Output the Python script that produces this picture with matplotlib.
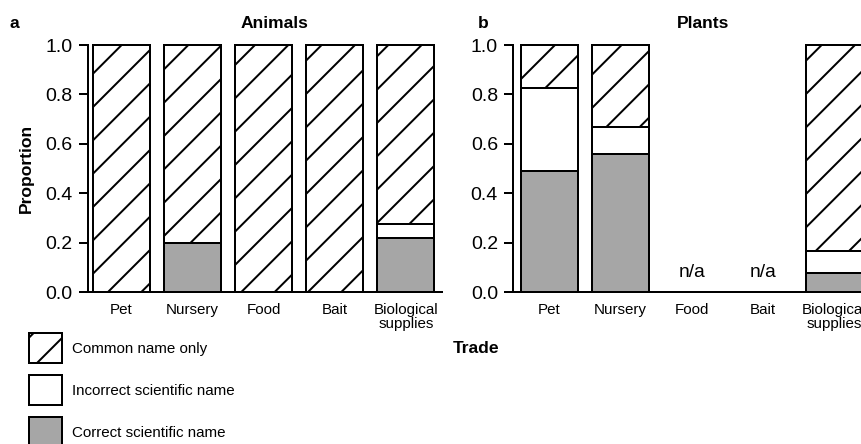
import matplotlib
matplotlib.use("Agg")
import matplotlib.pyplot as plt
from matplotlib.patches import Patch
import numpy as np

# ---- data -------------------------------------------------------------
trades = ["Pet", "Nursery", "Food", "Bait", "Biological\nsupplies"]

animals_correct = [0.0, 0.20, 0.0, 0.0, 0.22]
animals_incorrect = [0.0, 0.0, 0.0, 0.0, 0.055]
animals_common = [1.0, 0.80, 1.0, 1.0, 0.725]

# Food and Bait have no plant records (n/a)
plants_correct = [0.49, 0.56, np.nan, np.nan, 0.08]
plants_incorrect = [0.337, 0.11, np.nan, np.nan, 0.085]
plants_common = [0.173, 0.33, np.nan, np.nan, 0.835]

legend_labels = ["Common name only", "Incorrect scientific name", "Correct scientific name"]

# ---- style ------------------------------------------------------------
DPI = 200
FONT = "Liberation Sans"
GRAY = "#a6a6a6"
LW = 0.72
HATCH = "//"
plt.rcParams["font.family"] = FONT
plt.rcParams["hatch.linewidth"] = LW
plt.rcParams["hatch.color"] = "black"

W, H = 862, 444
fig = plt.figure(figsize=(W / DPI, H / DPI), dpi=DPI)

y0 = 1 - 292.3 / H
hgt = (292.3 - 45) / H
ax_a = fig.add_axes([87.5 / W, y0, (442 - 87.5) / W, hgt])
ax_b = fig.add_axes([513 / W, y0, (W - 513) / W, hgt])


def draw_panel(ax, correct, incorrect, common, xlim):
    correct = np.asarray(correct, float)
    incorrect = np.asarray(incorrect, float)
    common = np.asarray(common, float)
    x = np.arange(len(trades))
    ok = ~np.isnan(correct)
    kw = dict(width=0.8, edgecolor="black", linewidth=LW, clip_on=False, zorder=3)
    ax.bar(x[ok], correct[ok], color=GRAY, **kw)
    ax.bar(x[ok], incorrect[ok], bottom=correct[ok], color="white", **kw)
    ax.bar(x[ok], common[ok], bottom=(correct + incorrect)[ok],
           color="white", hatch=HATCH, **kw)
    for xi in x[~ok]:
        ax.text(xi, 0.06, "n/a", ha="center", va="baseline", fontsize=6.9)

    ax.set_xlim(*xlim)
    ax.set_ylim(0, 1)
    ax.set_xticks(x)
    ax.set_xticklabels(trades, fontsize=5.45, linespacing=0.95)
    ax.set_yticks(np.arange(0, 1.01, 0.2))
    ax.set_yticklabels([f"{v:.1f}" for v in np.arange(0, 1.01, 0.2)], fontsize=7.0)
    ax.tick_params(axis="x", length=0, pad=4.0)
    ax.tick_params(axis="y", direction="out", length=3.2, width=LW, pad=2.2)
    for s in ("top", "right"):
        ax.spines[s].set_visible(False)
    for s in ("left", "bottom"):
        ax.spines[s].set_linewidth(LW)
    ax.patch.set_alpha(0)


draw_panel(ax_a, animals_correct, animals_incorrect, animals_common, (-0.48, 4.51))
draw_panel(ax_b, plants_correct, plants_incorrect, plants_common, (-0.51, 4.39))

# ---- titles and labels --------------------------------------------------
bold = dict(fontsize=6.3, fontweight="bold")
fig.text(14 / W, 1 - 24 / H, "a", ha="center", va="center", **bold)
fig.text(275 / W, 1 - 24 / H, "Animals", ha="center", va="center", **bold)
fig.text(483 / W, 1 - 24 / H, "b", ha="center", va="center", **bold)
fig.text(703 / W, 1 - 24 / H, "Plants", ha="center", va="center", **bold)
fig.text(26 / W, 1 - 168 / H, "Proportion", ha="center", va="center",
         rotation=90, **bold)
fig.text(476 / W, 1 - 348 / H, "Trade", ha="center", va="center", **bold)

# ---- legend -----------------------------------------------------------------
handles = [
    Patch(facecolor="white", edgecolor="black", hatch=HATCH, linewidth=LW),
    Patch(facecolor="white", edgecolor="black", linewidth=LW),
    Patch(facecolor=GRAY, edgecolor="black", linewidth=LW),
]
fig.legend(handles, legend_labels, loc="upper left",
           bbox_to_anchor=(29 / W, 1 - 333 / H), frameon=False,
           fontsize=5.45, borderpad=0, borderaxespad=0,
           handlelength=2.2, handleheight=2.68, handletextpad=0.66,
           labelspacing=0.8)

fig.savefig("out.png", dpi=DPI)
